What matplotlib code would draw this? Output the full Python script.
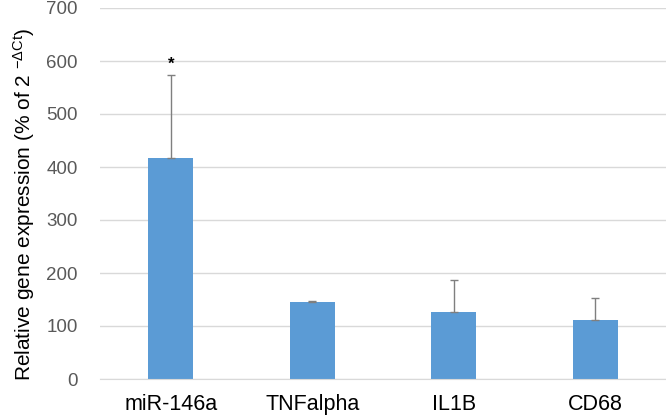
import matplotlib.pyplot as plt
import numpy as np

plt.rcParams["font.family"] = ["Liberation Sans", "DejaVu Sans"]
plt.rcParams["mathtext.fontset"] = "custom"
plt.rcParams["mathtext.rm"] = "Liberation Sans"
plt.rcParams["mathtext.it"] = "Liberation Sans"

genes = ["miR-146a", "TNFalpha", "IL1B", "CD68"]
expression = [417, 145, 126, 111]
err_upper = [156, 3, 60, 41]
marks = ["*", "", "", ""]

fig = plt.figure(figsize=(6.66, 4.16), dpi=100)
ax = fig.add_axes([100 / 666, 1 - 379 / 416, 566 / 666, 371 / 416])

x = np.arange(len(genes))
ax.bar(x, expression, width=0.32, color="#5b9bd5", zorder=2)
ax.errorbar(x, expression, yerr=[np.zeros(len(genes)), err_upper], fmt="none",
            ecolor="#7f7f7f", elinewidth=1, capsize=3, capthick=1, zorder=3)
for xi, v, e, m in zip(x, expression, err_upper, marks):
    if m:
        ax.text(xi, v + e + 6, m, ha="center", va="bottom", fontsize=12,
                fontweight="bold", color="black")

ax.set_xlim(-0.5, len(genes) - 0.5)
ax.set_ylim(0, 700)
ax.set_yticks(range(0, 701, 100))
ax.set_xticks(x)
ax.set_xticklabels(genes, fontsize=15.5, color="black")
ax.tick_params(axis="y", labelsize=13.5, labelcolor="#595959", length=0, pad=16)
ax.tick_params(axis="x", length=0, pad=11)
ax.yaxis.grid(True, color="#d9d9d9", linewidth=1, zorder=0)
for s in ["top", "right", "left"]:
    ax.spines[s].set_visible(False)
ax.spines["bottom"].set_color("#d9d9d9")
ax.set_ylabel(r"Relative gene expression (% of 2 $^{-\Delta \mathrm{Ct}}$)", fontsize=15,
              color="black")
ax.yaxis.set_label_coords(-0.112, 0.47)

fig.savefig("out.png", dpi=100)
